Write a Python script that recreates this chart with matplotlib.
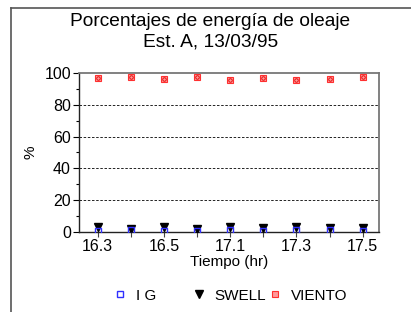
import matplotlib
matplotlib.use('Agg')
import matplotlib.pyplot as plt
from matplotlib.lines import Line2D
from matplotlib.ticker import MultipleLocator
import numpy as np

plt.rcParams['font.family'] = ['Liberation Sans', 'DejaVu Sans']

# Data
horas = ['16.3', '16.4', '16.5', '17.0', '17.1', '17.2', '17.3', '17.4', '17.5']
etiquetas = ['16.3', '', '16.5', '', '17.1', '', '17.3', '', '17.5']
ig = [1.0, 1.2, 1.0, 0.8, 1.5, 0.8, 1.5, 1.3, 1.0]
swell = [3.0, 2.2, 3.0, 2.0, 3.0, 2.5, 3.5, 2.5, 2.5]
viento = [96.9, 97.3, 96.2, 97.5, 95.4, 96.9, 95.4, 96.0, 97.1]

x = np.arange(1, len(horas) + 1)

fig = plt.figure(figsize=(4.11, 3.12), dpi=100)
ax = fig.add_axes([0.193, 0.2555, 0.730, 0.5115])

# Series
h_ig, = ax.plot(x, ig, ls='none', marker='s', ms=4.2, mfc='none',
                mec='#3030ff', mew=1.0, zorder=4, label='I G')
h_sw, = ax.plot(x, swell, ls='none', marker='v', ms=5.5, color='black',
                zorder=3, label='SWELL')
h_vi, = ax.plot(x, viento, ls='none', marker='s', ms=5, mfc='#ff9a9a',
                mec='#ff3030', mew=0.8, zorder=3, label='VIENTO')
ax.plot(x, viento, ls='none', marker='o', ms=2.5, mfc='none',
        mec='#e00000', mew=0.6, zorder=4)

# Axes
ax.set_xlim(0.45, 9.5)
ax.set_ylim(0, 100)
ax.set_xticks(x)
ax.set_xticklabels(etiquetas)
ax.yaxis.set_major_locator(MultipleLocator(20))
ax.yaxis.set_minor_locator(MultipleLocator(10))
ax.tick_params(axis='x', direction='inout', length=7, width=0.8,
               color='#444444', labelsize=11.5, pad=1)
ax.tick_params(axis='y', which='major', direction='out', length=4,
               width=0.8, labelsize=11.5, pad=2)
ax.tick_params(axis='y', which='minor', direction='out', length=2.5,
               width=0.8)
for g in [20, 40, 60, 80]:
    ax.axhline(g, color='black', ls=(0, (3, 2)), lw=0.6, zorder=1)

for s in ['left', 'bottom']:
    ax.spines[s].set_color('#222222')
    ax.spines[s].set_linewidth(1.0)
for s in ['top', 'right']:
    ax.spines[s].set_color('#777777')
    ax.spines[s].set_linewidth(1.3)

ax.set_xlabel('Tiempo (hr)', fontsize=11, labelpad=1)
ax.set_ylabel('%', fontsize=11, labelpad=5)

fig.text(0.512, 0.898, 'Porcentajes de energía de oleaje\nEst. A, 13/03/95',
         ha='center', va='center', fontsize=13.8, linespacing=1.22)

# Legend, one entry per block
for h, xpos in [(h_ig, 0.278), (h_sw, 0.47), (h_vi, 0.655)]:
    fig.legend(handles=[h], loc='center left', bbox_to_anchor=(xpos, 0.052),
               frameon=False, fontsize=11, handlelength=0.8,
               handletextpad=0.6, borderpad=0, borderaxespad=0)

# Figure frame (left and top)
fig.add_artist(Line2D([11 / 411, 11 / 411], [0, 1 - 8 / 312],
                      transform=fig.transFigure, color='#555555', lw=1.2))
fig.add_artist(Line2D([11 / 411, 1], [1 - 8 / 312, 1 - 8 / 312],
                      transform=fig.transFigure, color='#555555', lw=1.2))

fig.savefig('out.png', dpi=100)
